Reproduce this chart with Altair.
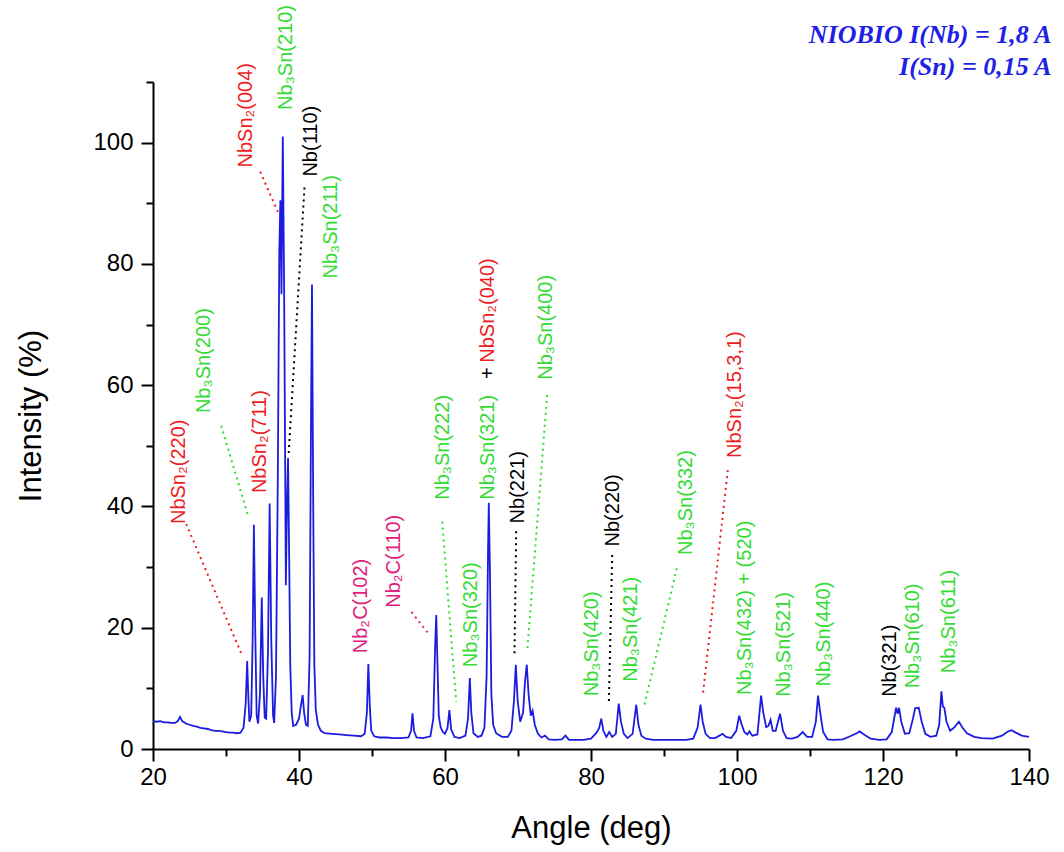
import altair as alt
import pandas as pd

# ---------------- spectrum ----------------
angle = [
    20.0, 20.5, 21.0, 21.5, 22.0, 22.5, 23.0, 23.4, 23.7, 24.0, 24.5, 25.0, 25.5, 26.0, 26.5,
    27.0, 27.5, 28.0, 28.5, 29.0, 29.5, 30.0, 30.5, 31.0, 31.5, 32.0, 32.4, 32.7, 32.9, 33.05,
    33.2, 33.45, 33.65, 33.82, 34.0, 34.2, 34.4, 34.65, 34.9, 35.1, 35.3, 35.5, 35.75, 35.98,
    36.2, 36.45, 36.6, 36.85, 37.1, 37.3, 37.45, 37.6, 37.78, 37.95, 38.1, 38.2, 38.35, 38.5,
    38.65, 38.8, 39.0, 39.2, 39.6, 40.0, 40.3, 40.5, 40.7, 40.95, 41.2, 41.45, 41.65, 41.78,
    41.95, 42.1, 42.3, 42.6, 43.0, 43.5, 44.5, 45.5, 46.5, 47.5, 48.5, 49.0, 49.3, 49.5, 49.7,
    49.9, 50.3, 51.0, 52.0, 53.0, 54.0, 55.0, 55.35, 55.55, 55.75, 56.1, 57.0, 58.0, 58.4,
    58.65, 58.8, 58.97, 59.15, 59.4, 59.7, 60.0, 60.35, 60.6, 60.85, 61.3, 62.0, 62.8, 63.15,
    63.4, 63.6, 63.9, 64.5, 65.0, 65.4, 65.7, 65.9, 66.0, 66.15, 66.35, 66.6, 67.0, 67.8, 68.6,
    69.1, 69.45, 69.7, 69.95, 70.3, 70.7, 70.95, 71.2, 71.45, 71.75, 72.0, 72.3, 72.7, 73.2,
    73.7, 74.2, 75.0, 76.0, 76.5, 77.0, 78.0, 79.0, 80.0, 80.7, 81.1, 81.4, 81.7, 82.1, 82.5,
    82.9, 83.4, 83.8, 84.1, 84.5, 85.0, 85.7, 86.2, 86.5, 86.9, 87.5, 88.5, 90.0, 91.5, 93.0,
    94.0, 94.6, 95.0, 95.3, 95.7, 96.3, 97.0, 97.6, 98.0, 98.5, 99.2, 99.9, 100.3, 100.6,
    101.0, 101.4, 101.7, 102.1, 102.8, 103.3, 103.6, 104.0, 104.3, 104.6, 104.9, 105.3, 105.9,
    106.3, 106.8, 107.5, 108.3, 109.0, 109.6, 110.3, 110.8, 111.1, 111.4, 111.8, 112.4, 113.2,
    114.5, 115.5, 116.4, 116.8, 117.4, 118.3, 119.5, 120.5, 121.2, 121.6, 121.8, 122.0, 122.2,
    122.5, 123.0, 123.6, 124.1, 124.4, 124.9, 125.3, 125.8, 126.5, 127.3, 127.7, 128.0, 128.2,
    128.4, 128.7, 129.2, 129.8, 130.4, 130.9, 131.5, 132.5, 133.5, 135.0, 136.3, 137.0, 137.6,
    138.2, 139.0, 140.0,
]
intensity = [
    4.6, 4.5, 4.6, 4.4, 4.4, 4.3, 4.3, 4.6, 5.3, 4.6, 4.2, 4.0, 3.8, 3.7, 3.5,
    3.4, 3.3, 3.1, 3.0, 3.0, 2.9, 2.8, 2.7, 2.7, 2.6, 2.7, 3.5, 7.5, 14.5, 9.0,
    4.5, 5.5, 18.0, 37.0, 20.0, 5.5, 4.2, 9.0, 25.0, 12.0, 5.2, 5.0, 16.0, 40.5,
    18.0, 5.5, 4.3, 12.0, 45.0, 82.0, 90.5, 75.0, 101.0, 78.0, 48.0, 27.0, 40.0, 48.0,
    32.0, 14.0, 6.0, 3.8, 4.0, 5.0, 7.5, 8.9, 6.0, 4.0, 3.8, 15.0, 55.0, 76.6,
    40.0, 14.0, 6.5, 4.0, 3.0, 2.6, 2.5, 2.4, 2.3, 2.2, 2.1, 2.5, 6.0, 14.0, 7.0,
    3.0, 2.1, 1.9, 1.9, 1.8, 1.8, 1.9, 3.0, 5.9, 3.0, 1.9, 1.8, 2.1, 5.0,
    17.0, 22.1, 14.0, 5.5, 3.6, 2.8, 2.5, 3.5, 6.4, 3.2, 2.0, 1.8, 2.2, 5.0,
    11.7, 6.0, 2.6, 2.0, 2.2, 3.5, 12.0, 33.0, 40.6, 30.0, 9.0, 4.0, 2.6, 2.0, 2.0,
    3.0, 8.0, 13.9, 8.0, 4.5, 6.0, 11.0, 13.9, 9.0, 5.5, 6.3, 4.0, 2.6, 1.9,
    2.2, 1.6, 1.5, 1.6, 2.2, 1.5, 1.5, 1.5, 1.7, 2.6, 3.4, 5.0, 3.0, 2.0, 2.8,
    2.0, 2.5, 7.5, 4.5, 2.5, 1.8, 2.5, 7.3, 4.0, 2.2, 1.7, 1.5, 1.5, 1.5, 1.5,
    1.7, 3.5, 7.3, 4.5, 2.5, 1.8, 1.8, 2.2, 2.5, 2.0, 1.8, 3.0, 5.5, 4.2,
    2.8, 2.4, 2.9, 2.2, 2.4, 8.8, 6.0, 3.6, 3.8, 4.8, 3.0, 3.0, 5.8,
    3.0, 1.8, 1.7, 2.0, 2.8, 2.0, 2.0, 4.5, 8.8, 6.0, 2.8, 1.6, 1.5,
    1.6, 2.1, 2.6, 2.9, 2.4, 1.7, 1.5, 1.6, 2.8, 5.5, 6.8, 5.8, 6.8,
    4.5, 2.5, 2.6, 5.0, 6.7, 6.8, 4.5, 2.5, 2.0, 2.2, 4.0, 9.5, 7.0,
    6.8, 4.5, 3.0, 3.6, 4.5, 3.5, 2.6, 2.0, 1.8, 1.7, 2.2, 2.8, 3.1,
    2.7, 2.2, 2.0,
]

# ---------------- axis ticks ----------------
x_major = [20, 40, 60, 80, 100, 120, 140]
x_minor = [30, 50, 70, 90, 110, 130]
y_major = [0, 20, 40, 60, 80, 100]
y_minor = [10, 30, 50, 70, 90, 110]

# ---------------- peak labels ----------------
label_text = [
    "NbSn₂(220)", "Nb₃Sn(200)", "NbSn₂(711)", "NbSn₂(004)", "Nb₃Sn(210)", "Nb(110)",
    "Nb₃Sn(211)", "Nb₂C(102)", "Nb₂C(110)", "Nb₃Sn(222)", "Nb₃Sn(320)", "Nb₃Sn(321)",
    "+", "NbSn₂(040)", "Nb(221)", "Nb₃Sn(400)", "Nb₃Sn(420)", "Nb(220)", "Nb₃Sn(421)",
    "Nb₃Sn(332)", "NbSn₂(15,3,1)", "Nb₃Sn(432) + (520)", "Nb₃Sn(521)", "Nb₃Sn(440)",
    "Nb(321)", "Nb₃Sn(610)", "Nb₃Sn(611)",
]
label_x = [
    23.63, 27.05, 34.59, 32.77, 38.25, 41.67, 44.41, 48.52, 53.08, 59.70, 63.59, 65.86,
    65.86, 65.86, 69.97, 73.86, 80.20, 82.99, 85.50, 93.04, 99.66, 101.03, 106.50, 111.97,
    120.90, 124.10, 129.00,
]
label_y = [
    37.1, 55.4, 42.2, 95.9, 105.4, 94.4, 77.6, 15.8, 23.3, 41.1, 13.5, 41.1,
    61.0, 63.7, 37.2, 60.9, 8.7, 33.4, 11.1, 32.0, 48.0, 8.9, 8.6, 10.3,
    8.6, 10.0, 12.5,
]
label_kind = [
    "red", "green", "red", "red", "green", "black", "green", "magenta", "magenta", "green",
    "green", "green", "black", "red", "black", "green", "green", "black", "green", "green",
    "red", "green", "green", "green", "black", "green", "green",
]

# ---------------- dotted leader lines ----------------
lead_x1 = [24.55, 29.34, 34.68, 40.75, 55.41, 59.62, 69.75, 74.00, 82.90, 91.75, 98.74]
lead_y1 = [37.1, 53.3, 95.2, 92.6, 22.6, 37.5, 35.9, 58.4, 32.0, 29.8, 46.0]
lead_x2 = [32.08, 32.99, 37.10, 38.56, 57.74, 61.53, 69.52, 71.26, 82.44, 87.33, 95.32]
lead_y2 = [15.8, 38.6, 88.6, 48.2, 19.0, 7.8, 15.8, 16.1, 7.3, 7.3, 8.9]
lead_kind = ["red", "green", "red", "black", "magenta", "green", "black", "green",
             "black", "green", "red"]

# ---------------- header text ----------------
head_text = ["NIOBIO I(Nb) = 1,8 A", "I(Sn) = 0,15 A"]
head_x = [143.1, 143.1]
head_y = [116.5, 111.1]

PALETTE = {"red": "#ee1d1d", "green": "#35db35", "black": "#000000", "magenta": "#e0207c"}

spec_df = pd.DataFrame({"angle": angle, "intensity": intensity})
lab_df = pd.DataFrame({"text": label_text, "angle": label_x, "intensity": label_y,
                       "col": [PALETTE[k] for k in label_kind]})
lead_df = pd.DataFrame({"angle": lead_x1, "intensity": lead_y1, "a2": lead_x2,
                        "i2": lead_y2, "col": [PALETTE[k] for k in lead_kind]})
head_df = pd.DataFrame({"text": head_text, "angle": head_x, "intensity": head_y})

FONT = "Liberation Sans"

xscale = alt.Scale(domain=[20, 140], nice=False, zero=False)
yscale = alt.Scale(domain=[0, 110], nice=False, zero=True)

common = dict(grid=False, labelFlush=False, labelOverlap=False,
              domainColor="black", domainWidth=2, tickColor="black", tickWidth=2)

x_axis = alt.Axis(
    values=x_major, tickSize=12, orient="bottom",
    title="Angle (deg)", labelFont=FONT, labelFontSize=24, labelColor="black",
    labelPadding=4, titleFont=FONT, titleFontSize=31, titleFontWeight="normal",
    titleColor="black", titlePadding=24, **common,
)
y_axis = alt.Axis(
    values=y_major, tickSize=12, orient="left",
    title="Intensity (%)", labelFont=FONT, labelFontSize=24, labelColor="black",
    labelPadding=8, titleFont=FONT, titleFontSize=31, titleFontWeight="normal",
    titleColor="black", titlePadding=45, **common,
)
x_axis_minor = alt.Axis(values=x_minor, tickSize=7, orient="bottom", labels=False,
                        title=None, domain=False, grid=False, tickColor="black", tickWidth=2)
y_axis_minor = alt.Axis(values=y_minor, tickSize=7, orient="left", labels=False,
                        title=None, domain=False, grid=False, tickColor="black", tickWidth=2)

line = alt.Chart(spec_df).mark_line(color="#1c1ce0", strokeWidth=1.8).encode(
    x=alt.X("angle:Q", scale=xscale, axis=x_axis),
    y=alt.Y("intensity:Q", scale=yscale, axis=y_axis),
)

leaders = alt.Chart(lead_df).mark_rule(strokeDash=[2, 4], strokeWidth=2).encode(
    x=alt.X("angle:Q", scale=xscale, axis=x_axis_minor),
    y=alt.Y("intensity:Q", scale=yscale, axis=y_axis_minor),
    x2="a2:Q",
    y2="i2:Q",
    color=alt.Color("col:N", scale=None),
)

labels = alt.Chart(lab_df).mark_text(
    angle=270, align="left", baseline="middle", font=FONT, fontSize=20
).encode(
    x=alt.X("angle:Q", scale=xscale, axis=None),
    y=alt.Y("intensity:Q", scale=yscale, axis=None),
    text="text:N",
    color=alt.Color("col:N", scale=None),
)

header = alt.Chart(head_df).mark_text(
    align="right", baseline="alphabetic", font="Liberation Serif", fontSize=26,
    fontWeight="bold", fontStyle="italic", color="#1f1fe6"
).encode(
    x=alt.X("angle:Q", scale=xscale, axis=None),
    y=alt.Y("intensity:Q", scale=yscale, axis=None),
    text="text:N",
)

chart = alt.layer(line, leaders, labels, header).resolve_axis(
    x="independent", y="independent"
).properties(
    width=876, height=667,
    padding={"left": 153, "top": 82, "right": 35, "bottom": 103},
    autosize=alt.AutoSizeParams(type="none"),
    background="white",
).configure_view(stroke=None)

chart.save("out.html", embed_options={"renderer": "svg", "actions": False})
